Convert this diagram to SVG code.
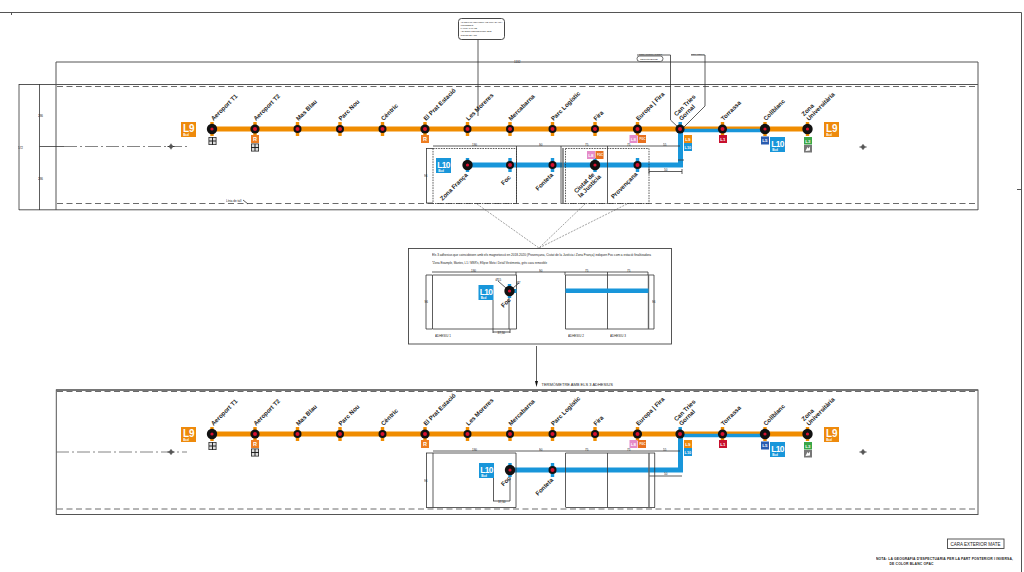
<svg xmlns="http://www.w3.org/2000/svg" xmlns:xlink="http://www.w3.org/1999/xlink" width="1024" height="572" viewBox="0 0 1024 572">
<style>
text{font-family:"Liberation Sans",Arial,sans-serif;fill:#222;opacity:.99}
.st{font-size:6.1px;font-weight:bold}
.tiny{font-size:3px;fill:#222}
.frame{fill:none;stroke:#555;stroke-width:1}
.thin{fill:none;stroke:#333;stroke-width:.8}
.thick{fill:none;stroke:#666;stroke-width:1.4}
.dash{fill:none;stroke:#444;stroke-width:.8;stroke-dasharray:6 3.5}
.dot{fill:none;stroke:#333;stroke-width:.8;stroke-dasharray:1.6 1}
.dd{fill:none;stroke:#666;stroke-width:.8;stroke-dasharray:13 3 2 3}
.lead{fill:none;stroke:#444;stroke-width:.5;stroke-dasharray:2 1.2}
.o{fill:none;stroke:#f08c00;stroke-width:5}
.b{fill:none;stroke:#1896da;stroke-width:5}
.bt{fill:none;stroke:#1896da;stroke-width:3.4}
.bw{font-weight:bold;fill:#fff}
</style>
<defs>
<g id="s"><circle r="4" fill="#111"/><circle r="2" fill="#d8102f"/></g>
<g id="m"><circle r="4.6" fill="#111"/><circle r="2" fill="#d8102f"/></g>
<g id="l"><circle r="5.2" fill="#111"/><circle r="1.6" fill="#d8102f"/></g>
<g id="to"><rect x="-1.7" y="-7" width="3.4" height="14" fill="#f08c00"/></g>
<g id="tb"><rect x="-1.7" y="-7" width="3.4" height="14" fill="#1896da"/></g>
<g id="L9"><rect width="15" height="15" fill="#ee8a0c"/><text x="2" y="10" font-size="10" class="bw">L9</text><text x="2.2" y="13.6" font-size="3" class="bw">Bcd</text></g>
<g id="L10"><rect width="15" height="15" fill="#1896da"/><text x="1.2" y="9.8" font-size="8.4" class="bw" letter-spacing="-.6">L10</text><text x="2.2" y="13.6" font-size="3" class="bw">Bcd</text></g>
<g id="air"><rect width="8" height="8" fill="#222"/><path d="M.8 .8h2.7v2.7H.8zM4.5 .8h2.7v2.7H4.5zM.8 4.5h2.7v2.7H.8zM4.5 4.5h2.7v2.7H4.5z" fill="#ddd"/></g>
<g id="R"><rect width="8" height="8" fill="#ee7d22"/><text x="2" y="6" font-size="5.5" class="bw">R</text></g>
<g id="L8"><rect width="8" height="8" fill="#e58bc9"/><text x="1.3" y="5.6" font-size="4.4" class="bw">L8</text><rect x="8.5" width="8" height="8" fill="#e8701e"/><text x="10" y="5.4" font-size="2.8" class="bw">FGC</text></g>
<g id="x"><path d="M-3.5 0H3.5M0-2.8V2.8" stroke="#333" stroke-width="1"/><circle r="1.9" fill="#555"/></g>
</defs>

<g id="sheet">
<path class="frame" d="M0 12.5H1021.5M1021.5 12.5V572M11.5 12.5V15M1017 189.5H1021"/>
</g>

<g id="band-top">
<path class="frame" d="M56 210V62H978V210"/>
<path class="frame" d="M19 84.5H978M19 209.8H978"/>
<path class="thin" d="M19 84V210M39.5 84V210M39.5 146.5H64"/>
<path class="dash" d="M57 86.5H978M57 203.5H978"/>
<path class="dd" d="M64 146.5H187"/>
<use xlink:href="#x" x="171" y="146.5"/><use xlink:href="#x" x="863" y="147"/>
<text class="tiny" x="514" y="63">1132</text><text class="tiny" x="18" y="149">572</text><text class="tiny" x="38" y="117">286</text><text class="tiny" x="38" y="180">286</text>
<text class="tiny" x="226" y="201.5">Línia de tall</text><path class="thin" d="M243 200l5 4"/>
</g>

<g id="band-bottom">
<rect class="frame" x="56.3" y="390" width="921.7" height="124.5"/>
<path class="thick" d="M56 390H978"/>
<path class="dash" d="M57 391.5H978M57 509H978"/>
<path class="dd" d="M56 452H187"/>
<use xlink:href="#x" x="171" y="452"/><use xlink:href="#x" x="863" y="452"/>
</g>

<g id="connectors">
<path class="o" d="M212 129H807.5"/>
<path class="b" d="M467 165H680.5V131"/>
<path class="bt" d="M680 130.5H765"/>
<path class="o" d="M212 434H807.5"/>
<path class="b" d="M510 470H680.5V436"/>
<path class="bt" d="M680 435.5H765"/>
<path class="thin" d="M478 39V116M637 55H670.5V120L680 129M691 55H705V106L683 128"/>
<path class="lead" d="M477 204L539 248M585 204L539 248M627 204L539 248"/>
<path class="thin" d="M536.5 346V385"/><path d="M535 381h3l-1.5 6z" fill="#111"/>
</g>

<g id="upper-dimensions">
<path class="thin" d="M433 146H680M426.5 148V203M426 148.5H433M426 203H433M516.5 146V203M561 146V203M607.5 146V203M649 171.5H682M682 169V174M649 168V174M678 160H684"/>
<path class="thick" d="M563 148V203"/>
<path class="dot" d="M433 148.5H516.5V203.5H433ZM565.5 148.5H649V203.5H565.5Z"/>
<text class="tiny" x="472" y="146">190</text><text class="tiny" x="539" y="146">90</text><text class="tiny" x="585" y="146">75</text><text class="tiny" x="627" y="146">75</text><text class="tiny" x="663" y="146">55</text><text class="tiny" x="664" y="171">50</text><text class="tiny" x="424" y="177">96</text>
</g>

<g id="lower-dimensions">
<path class="thin" d="M433 451H680M426.5 453V507.5M426 453H433M426 507.5H433M433 453H516M565.5 453H655M433 507.5H516M566 507.5H655M433 453V507.5M516 453V507.5M565.5 453V507.5M607.5 453V507.5M654.7 453V507.5M649 476H682M493.5 478V501M510 475V501M493 501H510"/>
<path class="thick" d="M649 453V507.5"/>
<text class="tiny" x="472" y="451">190</text><text class="tiny" x="539" y="451">90</text><text class="tiny" x="585" y="451">75</text><text class="tiny" x="627" y="451">75</text><text class="tiny" x="663" y="451">55</text><text class="tiny" x="664" y="475">50</text><text class="tiny" x="424" y="482">96</text><text class="tiny" x="498" y="503">37,50</text>
</g>

<g id="callout-a"><rect x="458.5" y="18.5" width="46" height="21" rx="3" fill="#fff" stroke="#333" stroke-width=".9"/>
<text font-size="2.4" x="460.5" y="23" textLength="42" lengthAdjust="spacingAndGlyphs">ADHESIU TRANSPARENT AMB TINTA BLANCA</text><text font-size="2.3" x="460.5" y="26.2">IMPRESSIÓ</text><text font-size="2.3" x="460.5" y="29.3">LAMINAT MATE</text><text font-size="2.3" x="460.5" y="32.3">ADHESIU REPOSICIONABLE</text><text font-size="2.3" x="460.5" y="36">COLOR BLANC</text></g>
<g id="callout-b"><rect x="637" y="56" width="26" height="5.5" rx="2.7" fill="#fff" stroke="#333" stroke-width=".7"/><text font-size="2.5" x="640" y="59.8">TERMÒMETRE</text><text font-size="2.5" x="639" y="54.5" textLength="23" lengthAdjust="spacingAndGlyphs">COTA MÍNIMA PISOS</text></g>
<g id="callout-c"><text font-size="2.5" x="691" y="54.5" textLength="13" lengthAdjust="spacingAndGlyphs">COTA TOTAL</text></g>

<g id="top-line">
<use xlink:href="#L9" x="181" y="122"/><use xlink:href="#L9" x="824" y="122"/>
<g id="n-t1"><use xlink:href="#to" x="212" y="129"/><use xlink:href="#l" x="212" y="129"/><text class="st" transform="translate(213.5 121) rotate(-45)">Aeroport T1</text><use xlink:href="#air" x="208.5" y="137"/></g>
<g id="n-t2"><use xlink:href="#to" x="255" y="129"/><use xlink:href="#m" x="255" y="129"/><text class="st" transform="translate(256 121) rotate(-45)">Aeroport T2</text><use xlink:href="#R" x="251" y="135"/><use xlink:href="#air" x="251" y="143.5"/></g>
<g id="n-masblau"><use xlink:href="#to" x="297.5" y="129"/><use xlink:href="#s" x="297.5" y="129"/><text class="st" transform="translate(298.5 121) rotate(-45)">Mas Blau</text></g>
<g id="n-parcnou"><use xlink:href="#to" x="340" y="129"/><use xlink:href="#s" x="340" y="129"/><text class="st" transform="translate(341 121) rotate(-45)">Parc Nou</text></g>
<g id="n-centric"><use xlink:href="#to" x="382.5" y="129"/><use xlink:href="#s" x="382.5" y="129"/><text class="st" transform="translate(383.5 121) rotate(-45)">Cèntric</text></g>
<g id="n-prat"><use xlink:href="#to" x="425" y="129"/><use xlink:href="#m" x="425" y="129"/><text class="st" transform="translate(426 121) rotate(-45)">El Prat Estació</text><use xlink:href="#R" x="421" y="135"/></g>
<g id="n-moreres"><use xlink:href="#to" x="467.5" y="129"/><use xlink:href="#s" x="467.5" y="129"/><text class="st" transform="translate(468.5 121) rotate(-45)">Les Moreres</text></g>
<g id="n-merca"><use xlink:href="#to" x="510" y="129"/><use xlink:href="#s" x="510" y="129"/><text class="st" transform="translate(511 121) rotate(-45)">Mercabarna</text></g>
<g id="n-logistic"><use xlink:href="#to" x="552.5" y="129"/><use xlink:href="#s" x="552.5" y="129"/><text class="st" transform="translate(553.5 121) rotate(-45)">Parc Logístic</text></g>
<g id="n-fira"><use xlink:href="#to" x="595" y="129"/><use xlink:href="#s" x="595" y="129"/><text class="st" transform="translate(596 121) rotate(-45)">Fira</text></g>
<g id="n-europa"><use xlink:href="#to" x="637.5" y="129"/><use xlink:href="#m" x="637.5" y="129"/><text class="st" transform="translate(638.5 121) rotate(-45)">Europa | Fira</text><use xlink:href="#L8" x="629.5" y="135"/></g>
<g id="n-gornal"><rect x="678.5" y="122" width="3.4" height="7" fill="#1896da"/><use xlink:href="#m" x="680" y="129"/><text class="st" transform="translate(676.5 116.5) rotate(-45)">Can Tries</text><text class="st" transform="translate(681.5 121) rotate(-45)">Gornal</text>
<rect x="684" y="135" width="8" height="8" fill="#ee8a0c"/><text x="685.3" y="140.8" font-size="4.4" class="bw">L9</text><rect x="684" y="143" width="8" height="8" fill="#1896da"/><text x="684.6" y="148.8" font-size="3.8" class="bw">L10</text></g>
<g id="n-torrassa"><rect x="720.8" y="122" width="3.4" height="14" fill="#f08c00"/><use xlink:href="#m" x="722.5" y="129"/><text class="st" transform="translate(723.5 121) rotate(-45)">Torrassa</text><rect x="719" y="135" width="8" height="8" fill="#c8102e"/><text x="720.3" y="140.8" font-size="4.4" class="bw">L1</text></g>
<g id="n-collblanc"><rect x="763.3" y="122" width="3.4" height="14" fill="#f08c00"/><use xlink:href="#l" x="765" y="129"/><text class="st" transform="translate(766 121) rotate(-45)">Collblanc</text><rect x="761" y="136.5" width="8" height="8" fill="#2a5cb0"/><text x="762.3" y="142.3" font-size="4.4" class="bw">L5</text><use xlink:href="#L10" x="770" y="137"/></g>
<g id="n-zona"><use xlink:href="#to" x="807.5" y="129"/><use xlink:href="#l" x="807.5" y="129"/><text class="st" transform="translate(804 116.5) rotate(-45)">Zona</text><text class="st" transform="translate(809 121) rotate(-45)">Universitària</text><rect x="804" y="137" width="8" height="7.5" fill="#3aa648"/><text x="805.3" y="142.6" font-size="4.4" class="bw">L3</text><rect x="804" y="145" width="8" height="7.5" fill="#777"/><path d="M805.5 151l2-4 1 1.5 1.5-2v4z" fill="#fff"/></g>
</g>

<g id="top-l10">
<use xlink:href="#L10" x="436" y="158"/>
<g id="n-zf"><use xlink:href="#tb" x="467.5" y="165"/><use xlink:href="#l" x="467.5" y="165"/><text class="st" transform="translate(442.5 201) rotate(-45)">Zona França</text></g>
<g id="n-foc"><use xlink:href="#tb" x="510" y="165"/><use xlink:href="#s" x="510" y="165"/><text class="st" transform="translate(503.5 185.5) rotate(-45)">Foc</text></g>
<g id="n-font"><use xlink:href="#tb" x="552.5" y="165"/><use xlink:href="#s" x="552.5" y="165"/><text class="st" transform="translate(538 191) rotate(-45)">Fonteta</text></g>
<g id="n-ciutat"><use xlink:href="#tb" x="595" y="165"/><use xlink:href="#l" x="595" y="165"/><text class="st" transform="translate(576.5 193.5) rotate(-45)">Ciutat de</text><text class="st" transform="translate(580.5 198) rotate(-45)">la Justícia</text><use xlink:href="#L8" x="587" y="151"/></g>
<g id="n-prov"><use xlink:href="#tb" x="637.5" y="165"/><use xlink:href="#s" x="637.5" y="165"/><text class="st" transform="translate(613.5 199) rotate(-45)">Provençana</text></g>
</g>

<g id="detail">
<rect x="408.5" y="248.5" width="263" height="95.5" fill="#fff" stroke="#444" stroke-width=".9"/>
<text font-size="3.4" x="432" y="256" textLength="219" lengthAdjust="spacingAndGlyphs">Els 3 adhesius que coincideixen amb els magnetoscó en 2018-2020 (Provençana, Ciutat de la Justícia i Zona França) indiquen Foc com a estació finalitzadora</text>
<text font-size="3.4" x="432" y="263.5" textLength="115" lengthAdjust="spacingAndGlyphs">*Zona Eixample, Mantes, L1 / MSR's, Ellipse Moto i Detall Vestimenta, grès cava removible</text>
<path class="thin" d="M432.5 275H516.5V329H432.5ZM426 275V329M426 275H432M426 329H432M432 272H648M565.5 275V329H654M565.5 275H654M607.5 275V329M654 275V329M493 300V329M509 296V329M493 332H510M493 329V333M510 329V333M516 272V275M565 272V275M607.5 272V275M648 272V275"/>
<path class="thick" d="M648.500 275V329"/>
<rect x="565.5" y="288.5" width="83" height="4.5" fill="#1896da"/>
<use xlink:href="#L10" x="478.5" y="285"/>
<use xlink:href="#tb" x="509.5" y="291"/><rect x="509" y="289" width="7.5" height="4" fill="#1896da"/><use xlink:href="#l" x="509.5" y="291"/>
<text class="st" transform="translate(503.5 308) rotate(-45)">Foc</text>
<path class="thin" d="M498 281l8 7M519 283l-6 5"/>
<text class="tiny" x="495.5" y="281">Ø15</text><text class="tiny" x="516.5" y="284">Ø7</text>
<text class="tiny" x="471" y="272">190</text><text class="tiny" x="539" y="272">90</text><text class="tiny" x="585" y="272">75</text><text class="tiny" x="627" y="272">75</text><text class="tiny" x="424.5" y="303">96</text><text class="tiny" x="652" y="303">96</text><text class="tiny" x="497.5" y="334">37,50</text>
<text class="tiny" x="435" y="336.5">ADHESIU 1</text><text class="tiny" x="568" y="336.5">ADHESIU 2</text><text class="tiny" x="610" y="336.5">ADHESIU 3</text>
</g>
<text id="thermo-label" font-size="4" x="541.5" y="386">TERMÒMETRE AMB ELS 3 ADHESIUS</text>

<g id="bottom-line">
<use xlink:href="#L9" x="181" y="427"/><use xlink:href="#L9" x="824" y="427"/>
<g id="b-t1"><use xlink:href="#to" x="212" y="434"/><use xlink:href="#l" x="212" y="434"/><text class="st" transform="translate(213.5 426) rotate(-45)">Aeroport T1</text><use xlink:href="#air" x="208.5" y="442"/></g>
<g id="b-t2"><use xlink:href="#to" x="255" y="434"/><use xlink:href="#m" x="255" y="434"/><text class="st" transform="translate(256 426) rotate(-45)">Aeroport T2</text><use xlink:href="#R" x="251" y="440"/><use xlink:href="#air" x="251" y="448.5"/></g>
<g id="b-masblau"><use xlink:href="#to" x="297.5" y="434"/><use xlink:href="#s" x="297.5" y="434"/><text class="st" transform="translate(298.5 426) rotate(-45)">Mas Blau</text></g>
<g id="b-parcnou"><use xlink:href="#to" x="340" y="434"/><use xlink:href="#s" x="340" y="434"/><text class="st" transform="translate(341 426) rotate(-45)">Parc Nou</text></g>
<g id="b-centric"><use xlink:href="#to" x="382.5" y="434"/><use xlink:href="#s" x="382.5" y="434"/><text class="st" transform="translate(383.5 426) rotate(-45)">Cèntric</text></g>
<g id="b-prat"><use xlink:href="#to" x="425" y="434"/><use xlink:href="#m" x="425" y="434"/><text class="st" transform="translate(426 426) rotate(-45)">El Prat Estació</text><use xlink:href="#R" x="421" y="440"/></g>
<g id="b-moreres"><use xlink:href="#to" x="467.5" y="434"/><use xlink:href="#s" x="467.5" y="434"/><text class="st" transform="translate(468.5 426) rotate(-45)">Les Moreres</text></g>
<g id="b-merca"><use xlink:href="#to" x="510" y="434"/><use xlink:href="#s" x="510" y="434"/><text class="st" transform="translate(511 426) rotate(-45)">Mercabarna</text></g>
<g id="b-logistic"><use xlink:href="#to" x="552.5" y="434"/><use xlink:href="#s" x="552.5" y="434"/><text class="st" transform="translate(553.5 426) rotate(-45)">Parc Logístic</text></g>
<g id="b-fira"><use xlink:href="#to" x="595" y="434"/><use xlink:href="#s" x="595" y="434"/><text class="st" transform="translate(596 426) rotate(-45)">Fira</text></g>
<g id="b-europa"><use xlink:href="#to" x="637.5" y="434"/><use xlink:href="#m" x="637.5" y="434"/><text class="st" transform="translate(638.5 426) rotate(-45)">Europa | Fira</text><use xlink:href="#L8" x="629.5" y="440"/></g>
<g id="b-gornal"><rect x="678.5" y="427" width="3.4" height="7" fill="#1896da"/><use xlink:href="#m" x="680" y="434"/><text class="st" transform="translate(676.5 421.5) rotate(-45)">Can Tries</text><text class="st" transform="translate(681.5 426) rotate(-45)">Gornal</text>
<rect x="684" y="440" width="8" height="8" fill="#ee8a0c"/><text x="685.3" y="445.8" font-size="4.4" class="bw">L9</text><rect x="684" y="448" width="8" height="8" fill="#1896da"/><text x="684.6" y="453.8" font-size="3.8" class="bw">L10</text></g>
<g id="b-torrassa"><rect x="720.8" y="427" width="3.4" height="14" fill="#f08c00"/><use xlink:href="#m" x="722.5" y="434"/><text class="st" transform="translate(723.5 426) rotate(-45)">Torrassa</text><rect x="719" y="440" width="8" height="8" fill="#c8102e"/><text x="720.3" y="445.8" font-size="4.4" class="bw">L1</text></g>
<g id="b-collblanc"><rect x="763.3" y="427" width="3.4" height="14" fill="#f08c00"/><use xlink:href="#l" x="765" y="434"/><text class="st" transform="translate(766 426) rotate(-45)">Collblanc</text><rect x="761" y="441.5" width="8" height="8" fill="#2a5cb0"/><text x="762.3" y="447.3" font-size="4.4" class="bw">L5</text><use xlink:href="#L10" x="770" y="442"/></g>
<g id="b-zona"><use xlink:href="#to" x="807.5" y="434"/><use xlink:href="#l" x="807.5" y="434"/><text class="st" transform="translate(804 421.5) rotate(-45)">Zona</text><text class="st" transform="translate(809 426) rotate(-45)">Universitària</text><rect x="804" y="442" width="8" height="7.5" fill="#3aa648"/><text x="805.3" y="447.6" font-size="4.4" class="bw">L3</text><rect x="804" y="450" width="8" height="7.5" fill="#777"/><path d="M805.5 456l2-4 1 1.5 1.5-2v4z" fill="#fff"/></g>
<use xlink:href="#L10" x="479" y="463"/>
<g id="b-foc"><use xlink:href="#tb" x="510" y="470"/><use xlink:href="#l" x="510" y="470"/><text class="st" transform="translate(503.5 486.5) rotate(-45)">Foc</text></g>
<g id="b-font"><use xlink:href="#tb" x="552.5" y="470"/><use xlink:href="#s" x="552.5" y="470"/><text class="st" transform="translate(538 496) rotate(-45)">Fonteta</text></g>
</g>

<g id="notes">
<rect x="947.5" y="539" width="56.5" height="9.5" fill="none" stroke="#444" stroke-width=".9"/>
<text font-size="4.6" x="950.5" y="545.6" textLength="50" lengthAdjust="spacingAndGlyphs">CARA EXTERIOR MATE</text>
<text font-size="3.4" x="876" y="559.5" textLength="137" lengthAdjust="spacing" font-weight="bold">NOTA: LA GEOGRAFIA D'ESPECTUARIA PER LA PART POSTERIOR I INVERSA,</text>
<text font-size="3.4" x="889.5" y="565" textLength="44" lengthAdjust="spacing" font-weight="bold">DE COLOR BLANC OPAC</text>
</g>
</svg>
